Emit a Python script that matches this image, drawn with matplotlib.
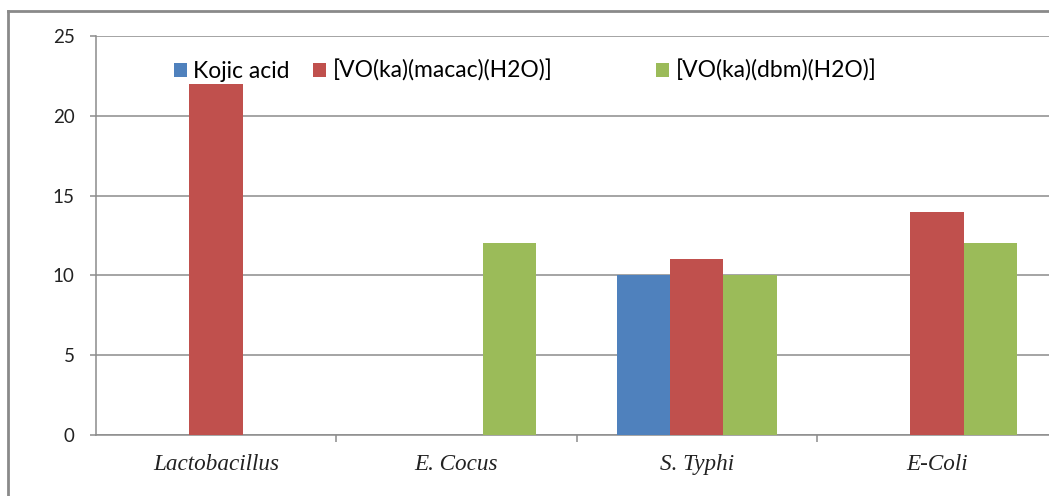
import numpy as np
import matplotlib as mpl
import matplotlib.pyplot as plt
from matplotlib.lines import Line2D
from matplotlib.patches import Patch
mpl.use('Agg')

# data
categories = ["Lactobacillus", "E. Cocus", "S. Typhi", "E-Coli"]
series_names = ["Kojic acid", "[VO(ka)(macac)(H2O)]", "[VO(ka)(dbm)(H2O)]"]
kojic = [0, 0, 10, 0]
macac = [22, 0, 11, 14]
dbm = [0, 12, 10, 12]
colors = ["#4F81BD", "#C0504D", "#9BBB59"]

W, H = 1049, 496
fig = plt.figure(figsize=(W / 100, H / 100), dpi=100)
fig.patch.set_facecolor("white")

# plot area (in pixel coordinates of the reference)
left, right, top, bottom = 96, 1057, 36, 435
ax = fig.add_axes([left / W, 1 - bottom / H, (right - left) / W, (bottom - top) / H])

x = np.arange(len(categories))
bw = 1 / 4.5
for i, (vals, c) in enumerate(zip([kojic, macac, dbm], colors)):
    ax.bar(x + (i - 1) * bw, vals, width=bw, color=c, zorder=3, label=series_names[i])

ax.set_xlim(-0.5, len(categories) - 0.5)
ax.set_ylim(0, 25)
ax.set_yticks(range(0, 26, 5))
ax.yaxis.grid(True, color="#8c8c8c", linewidth=1.1, zorder=0)
ax.set_axisbelow(True)

for s in ["top", "right"]:
    ax.spines[s].set_visible(False)
for s in ["left", "bottom"]:
    ax.spines[s].set_color("#8c8c8c")
    ax.spines[s].set_linewidth(1.1)

ax.tick_params(axis="y", length=4.3, width=1.1, color="#8c8c8c", pad=11,
               labelsize=13.5, labelcolor="#222222")
for lab in ax.get_yticklabels():
    lab.set_family("Lato")

# category labels centred, tick marks at category boundaries
ax.set_xticks(x)
ax.set_xticklabels(categories, fontfamily="Liberation Serif", fontstyle="italic",
                   fontsize=16.7, color="#222222")
ax.tick_params(axis="x", which="major", length=0, pad=14)
ax.set_xticks(np.arange(0.5, len(categories) - 0.5, 1), minor=True)
ax.tick_params(axis="x", which="minor", length=5, width=1.1, color="#8c8c8c")

# legend split in two like the reference layout
handles = [Patch(facecolor=c, edgecolor="none") for c in colors]
leg_kw = dict(frameon=False, handlelength=0.55, handleheight=0.55,
              handletextpad=0.3, borderpad=0, borderaxespad=0, loc="center left",
              prop={"family": "Lato", "size": 16.5})
leg1 = fig.legend(handles[:2], series_names[:2], ncol=2, columnspacing=1.0,
                  bbox_to_anchor=(174 / W, 1 - 71 / H), **leg_kw)
leg2 = fig.legend(handles[2:], series_names[2:], ncol=1,
                  bbox_to_anchor=(656 / W, 1 - 71 / H), **leg_kw)

# outer chart border (cut off at the right and bottom)
bx, by = 8 / W, 1 - 11 / H
fig.add_artist(Line2D([bx, bx], [0, by], transform=fig.transFigure, color="#8a8a8a", lw=2))
fig.add_artist(Line2D([bx, 1], [by, by], transform=fig.transFigure, color="#8a8a8a", lw=2))

fig.savefig("out.png", dpi=100)
plt.close(fig)
